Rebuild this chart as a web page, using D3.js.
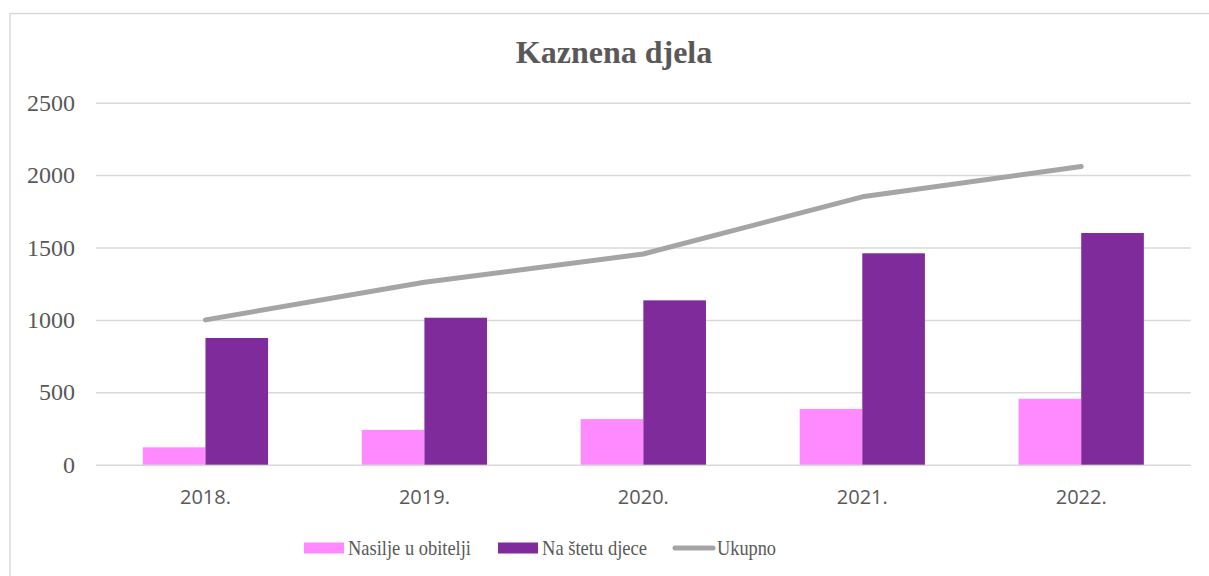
<!DOCTYPE html>
<html><head><meta charset="utf-8">
<script src="https://cdn.jsdelivr.net/npm/d3@7"></script>
<style>html,body{margin:0;padding:0;background:#fff;}</style>
</head><body>
<svg id="c" width="1209" height="576"></svg>
<script>
const categories = ["2018.", "2019.", "2020.", "2021.", "2022."];
const nasilje = [120, 240, 315, 385, 455];
const djece = [875, 1015, 1135, 1460, 1600];
const ukupno = [1000, 1260, 1455, 1850, 2060];
const yTicks = [0, 500, 1000, 1500, 2000, 2500];
const seriesNames = ["Nasilje u obitelji", "Na štetu djece", "Ukupno"];
const colors = ["#FF89FF", "#7F2B9B", "#A5A5A5"];

(function () {
const svg = d3.select("#c");
const W = 1209, H = 576;
// chart border
svg.append("rect").attr("x", 10).attr("y", 13.5).attr("width", W + 20).attr("height", H + 20)
  .attr("fill", "#fff").attr("stroke", "#D9D9D9").attr("stroke-width", 1.5);

const pLeft = 96, pRight = 1190.7, pTop = 102.7, pBottom = 464.7;
const x = d3.scaleBand().domain(categories).range([pLeft, pRight]).paddingInner(0.428).paddingOuter(0.214);
const xs = d3.scaleBand().domain([0, 1]).range([0, x.bandwidth()]);
const y = d3.scaleLinear().domain([0, 2500]).range([pBottom, pTop]);

// gridlines
const yAxis = d3.axisLeft(y).tickValues(yTicks).tickSize(-(pRight - pLeft)).tickFormat(d => d);
const gy = svg.append("g").attr("transform", `translate(${pLeft},0)`).call(yAxis);
gy.select(".domain").remove();
gy.selectAll(".tick line").attr("stroke", "#D9D9D9").attr("stroke-width", 1.5);
gy.selectAll(".tick text").attr("x", -21).attr("fill", "#595959")
  .style("font-family", "'Liberation Serif', 'Times New Roman', serif").style("font-size", "24px");

// x axis labels
const xAxis = d3.axisBottom(x).tickSize(0).tickPadding(0);
const gx = svg.append("g").attr("transform", `translate(0,${pBottom})`).call(xAxis);
gx.select(".domain").remove();
gx.selectAll(".tick text").attr("y", 39).attr("dy", 0).attr("fill", "#595959")
  .style("font-family", "'Open Sans', sans-serif").style("font-size", "20px");

// bars
const series = [nasilje, djece];
series.forEach((vals, si) => {
  svg.append("g").selectAll("rect").data(vals).join("rect")
    .attr("x", (d, i) => x(categories[i]) + xs(si))
    .attr("width", xs.bandwidth())
    .attr("y", d => y(d))
    .attr("height", d => y(0) - y(d))
    .attr("fill", colors[si]);
});

// line
const line = d3.line().x((d, i) => x(categories[i]) + x.bandwidth() / 2).y(d => y(d));
svg.append("path").datum(ukupno).attr("d", line).attr("fill", "none")
  .attr("stroke", colors[2]).attr("stroke-width", 5).attr("stroke-linecap", "round").attr("stroke-linejoin", "round");

// title
svg.append("text").attr("x", 614).attr("y", 63).attr("text-anchor", "middle")
  .attr("fill", "#595959").style("font-family", "'Liberation Serif', 'Times New Roman', serif")
  .style("font-size", "32px").style("font-weight", "bold").text("Kaznena djela");

// legend
const leg = svg.append("g");
const legX = [304, 498, 673];
seriesNames.forEach((name, i) => {
  const g = leg.append("g").attr("transform", `translate(${legX[i]},548)`);
  if (i < 2) {
    g.append("rect").attr("x", 0).attr("y", -5.5).attr("width", 40).attr("height", 11).attr("fill", colors[i]);
  } else {
    g.append("line").attr("x1", 2).attr("x2", 40).attr("y1", 0).attr("y2", 0)
      .attr("stroke", colors[i]).attr("stroke-width", 5).attr("stroke-linecap", "round");
  }
  g.append("text").attr("x", 44).attr("y", 7).attr("fill", "#595959")
    .style("font-family", "'Liberation Serif', 'Times New Roman', serif").style("font-size", "21px")
    .attr("textLength", [123, 105, 59][i]).attr("lengthAdjust", "spacingAndGlyphs").text(name);
});
})();
</script>
</body></html>
